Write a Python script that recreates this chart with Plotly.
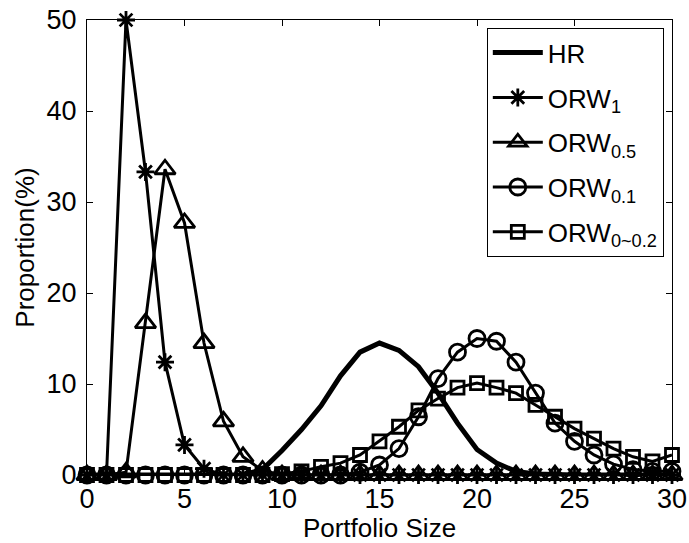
import plotly.graph_objects as go

x_vals = list(range(0, 31))

hr = [0, 0, 0, 0, 0, 0, 0, 0, 0, 0.6, 2.7, 5.0, 7.6, 10.9, 13.5, 14.5, 13.7, 11.9, 9.0,
      5.7, 2.8, 1.3, 0.4, 0.1, 0, 0, 0, 0, 0, 0, 0]
orw1 = [0, 0, 50, 33.3, 12.4, 3.3, 0.7, 0, 0, 0, 0, 0, 0, 0, 0, 0, 0, 0, 0, 0, 0,
        0, 0, 0, 0, 0, 0, 0, 0, 0, 0]
orw05 = [0, 0, 0.3, 16.7, 33.6, 27.7, 14.5, 5.9, 2.0, 0.5, 0, 0, 0, 0, 0, 0, 0, 0, 0, 0, 0,
         0, 0, 0, 0, 0, 0, 0, 0, 0, 0]
orw01 = [0, 0, 0, 0, 0, 0, 0, 0, 0, 0, 0, 0, 0, 0, 0.3, 1.1, 2.9, 6.4, 10.6, 13.5, 15.0,
         14.7, 12.4, 9.0, 5.7, 3.7, 2.2, 1.2, 0.6, 0.4, 0.4]
orw02 = [0, 0, 0, 0, 0, 0, 0, 0, 0, 0, 0.1, 0.4, 0.9, 1.3, 2.2, 3.7, 5.3, 7.1, 8.4, 9.6,
         10.1, 9.6, 9.0, 7.7, 6.4, 5.1, 4.0, 2.9, 2.0, 1.5, 2.2]

names = ["HR", "ORW<sub>1</sub>", "ORW<sub>0.5</sub>", "ORW<sub>0.1</sub>", "ORW<sub>0~0.2</sub>"]
x_ticks = [0, 5, 10, 15, 20, 25, 30]
y_ticks = [0, 10, 20, 30, 40, 50]

FONT = "Liberation Sans, Arial, Helvetica, sans-serif"

fig = go.Figure()
fig.add_trace(go.Scatter(x=x_vals, y=hr, mode="lines", name=names[0], legendgroup="g0",
                         line=dict(color="black", width=5), cliponaxis=False))
symbols = ["asterisk-open", "triangle-up-open", "circle-open", "square-open"]
sizes = [15, 18, 16, 13]
for i, (name, ys, sym, sz) in enumerate(zip(names[1:], [orw1, orw05, orw01, orw02], symbols, sizes)):
    fig.add_trace(go.Scatter(
        x=x_vals, y=ys, mode="lines+markers", name=name, legendgroup="g%d" % (i + 1),
        line=dict(color="black", width=3),
        marker=dict(symbol=sym, size=sz, color="black",
                    line=dict(color="black", width=2.8)),
        cliponaxis=False))

axis_common = dict(
    showline=True, linecolor="black", linewidth=1, mirror="ticks",
    ticks="inside", ticklen=6, tickcolor="black", tickwidth=1,
    showgrid=False, zeroline=False, automargin=False,
    tickfont=dict(family=FONT, size=27, color="black"),
)

fig.update_layout(
    width=689, height=543,
    margin=dict(l=87, r=17, t=20, b=68),
    paper_bgcolor="white", plot_bgcolor="white",
    font=dict(family=FONT, color="black"),
    xaxis=dict(range=[0, 30], tickvals=x_ticks,
               title=dict(text="Portfolio Size", font=dict(family=FONT, size=26), standoff=0),
               **axis_common),
    yaxis=dict(range=[0, 50], tickvals=y_ticks, ticklabelstandoff=4,
               title=dict(text="Proportion(%)", font=dict(family=FONT, size=26), standoff=4),
               **axis_common),
    legend=dict(x=0.986, y=0.982, xanchor="right", yanchor="top",
                bgcolor="white", bordercolor="black", borderwidth=1,
                font=dict(family=FONT, size=26, color="black"),
                traceorder="grouped", tracegroupgap=8,
                itemwidth=50),
    showlegend=True,
)

fig.write_html("out.html")
